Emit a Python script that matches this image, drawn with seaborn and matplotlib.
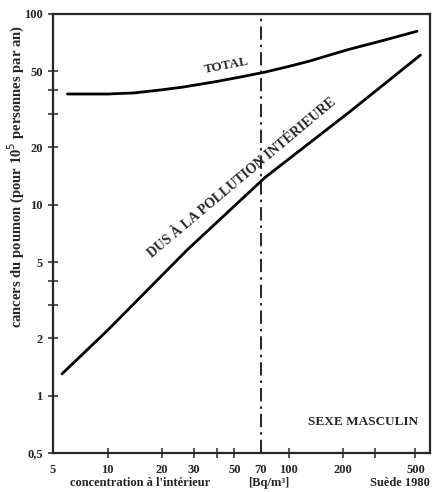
import matplotlib
matplotlib.use("Agg")
import matplotlib.pyplot as plt
import seaborn as sns
import pandas as pd

# values (log-log)
total_x = [6, 10, 14, 20, 26, 40, 55, 74, 100, 130, 170, 220, 280, 350, 430, 510]
total_y = [38, 38, 38.5, 40, 41.3, 44.2, 46.8, 49.5, 53, 56.5, 61, 65.5, 69.5, 73.5, 77.5, 81]
indoor_x = [5.6, 10, 27.5, 74, 219, 533]
indoor_y = [1.3, 2.2, 5.8, 13.9, 30.9, 60.8]

x_ticks = [5, 10, 20, 30, 40, 50, 70, 100, 200, 300, 500]
x_labels = ["5", "10", "20", "30", "", "50", "70", "100", "200", "", "500"]
y_ticks = [0.5, 1, 2, 5, 10, 20, 50, 100]
y_labels = ["0,5", "1", "2", "5", "10", "20", "50", "100"]
y_minor = [3, 4, 30, 40]
limit_x = 70

df = pd.concat([
    pd.DataFrame({"x": total_x, "y": total_y, "serie": "TOTAL"}),
    pd.DataFrame({"x": indoor_x, "y": indoor_y, "serie": "DUS"}),
])

sns.set_style("ticks")
plt.rcParams["font.family"] = ["Liberation Serif", "DejaVu Serif"]

fig = plt.figure(figsize=(4.35, 4.92), dpi=100)
ax = fig.add_axes([0.122, 0.079, 0.866, 0.893])

for name, g in df.groupby("serie"):
    sns.lineplot(data=g, x="x", y="y", ax=ax, color="black", lw=2.0,
                 estimator=None, sort=True, legend=False)

ax.axvline(limit_x, color="black", lw=1.2, ls=(0, (8, 3, 1.5, 3)))

ax.set_xscale("log")
ax.set_yscale("log")
ax.set_xlim(5, 600)
ax.set_ylim(0.5, 100)

ax.set_xticks(x_ticks)
ax.set_xticklabels(x_labels)
ax.set_yticks(y_ticks)
ax.set_yticklabels(y_labels)
ax.set_yticks(y_minor, minor=True)
ax.set_xticks([], minor=True)
for t, v in zip(ax.xaxis.get_major_ticks(), x_ticks):
    if v in (5, 70):
        t.tick1line.set_visible(False)

ax.tick_params(axis="both", which="both", direction="inout", length=7, width=1.1,
               labelsize=9, pad=4)
for lab in ax.get_xticklabels() + ax.get_yticklabels():
    lab.set_fontweight("bold")

for s in ax.spines.values():
    s.set_visible(True)
    s.set_linewidth(1.6)

ax.set_xlabel("")
ax.set_ylabel("cancers du poumon (pour 10$^5$ personnes par an)",
              fontsize=10.5, fontweight="bold")
ax.yaxis.set_label_coords(-0.07, 0.63)

ax.text(0.045, -0.055, "concentration à l'intérieur", transform=ax.transAxes,
        fontsize=9, fontweight="bold", va="top", ha="left")
ax.text(78, -0.055, "[Bq/m³]", transform=ax.get_xaxis_transform(),
        fontsize=9, fontweight="bold", va="top", ha="center")
ax.text(1.0, -0.055, "Suède 1980", transform=ax.transAxes,
        fontsize=9, fontweight="bold", va="top", ha="right")

ax.text(45, 53.5, "TOTAL", fontsize=9.5, fontweight="bold", rotation=11,
        ha="center", va="center")
ax.text(55, 13.8, "DUS À LA POLLUTION INTÉRIEURE", fontsize=10,
        fontweight="bold", rotation=40, ha="center", va="center")
ax.text(0.97, 0.07, "SEXE MASCULIN", transform=ax.transAxes, fontsize=9.5,
        fontweight="bold", ha="right", va="center")

fig.savefig("out.png", dpi=100)
